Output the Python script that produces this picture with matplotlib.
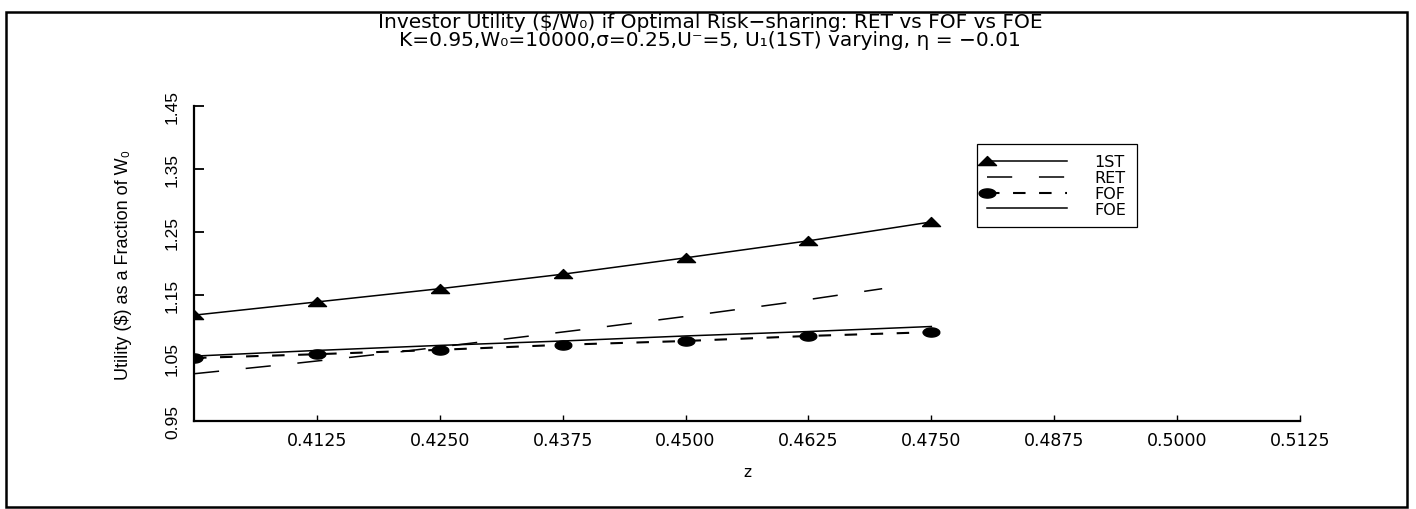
import matplotlib

matplotlib.use("Agg")
import matplotlib.pyplot as plt
import numpy as np
from matplotlib.legend_handler import HandlerLine2D
from matplotlib.patches import Rectangle

# utility per unit of initial wealth, by z
z = [0.4000, 0.4125, 0.4250, 0.4375, 0.4500, 0.4625, 0.4750]
u_1st = [1.118, 1.139, 1.160, 1.183, 1.209, 1.236, 1.266]
u_fof = [1.050, 1.056, 1.063, 1.071, 1.077, 1.085, 1.091]
u_foe = [1.053, 1.062, 1.070, 1.077, 1.085, 1.092, 1.100]

# RET is evaluated on its own grid
z_ret = [0.40, 0.41, 0.42, 0.43, 0.44, 0.45, 0.46, 0.47]
u_ret = [1.025, 1.041, 1.058, 1.077, 1.096, 1.116, 1.137, 1.160]

x_ticks = [0.4125, 0.4250, 0.4375, 0.4500, 0.4625, 0.4750, 0.4875, 0.5000, 0.5125]
x_tick_labels = ["0.4125", "0.4250", "0.4375", "0.4500", "0.4625",
                 "0.4750", "0.4875", "0.5000", "0.5125"]
y_ticks = [0.95, 1.05, 1.15, 1.25, 1.35, 1.45]
y_tick_labels = ["0.95", "1.05", "1.15", "1.25", "1.35", "1.45"]

TITLE_1 = "Investor Utility ($/W\u2080) if Optimal Risk\u2212sharing: RET vs FOF vs FOE"
TITLE_2 = "K=0.95,W\u2080=10000,\u03c3=0.25,U\u207b=5, U\u2081(1ST) varying, \u03b7 = \u22120.01"

NARROW = ["Liberation Sans", "DejaVu Sans"]
WIDE = ["DejaVu Sans"]

# flat triangle and flat ellipse markers
TRI = [(-1.0, -0.45), (1.0, -0.45), (0.0, 0.55), (-1.0, -0.45)]
_t = np.linspace(0, 2 * np.pi, 41)
ELL = list(zip(np.cos(_t), 0.55 * np.sin(_t)))


class _MarkerAtStart(HandlerLine2D):
    """Legend handle with the marker drawn at the left end of the line."""

    def create_artists(self, *args, **kwargs):
        arts = super().create_artists(*args, **kwargs)
        for a in arts:
            if a.get_markevery() is not None:
                a.set_markevery([0])
        return arts


fig = plt.figure(figsize=(14.16, 5.10), dpi=100)
ax = fig.add_axes([194 / 1416, 88 / 510, 1106 / 1416, 315 / 510])

ax.plot(z, u_1st, color="black", lw=1.1, marker=TRI, ms=13, label="1ST")
ax.plot(z_ret, u_ret, color="black", lw=1.1, linestyle=(0, (16.5, 17.5)), label="RET")
ax.plot(z, u_fof, color="black", lw=1.5, linestyle=(0, (6, 6.5)),
        marker=ELL, ms=12, label="FOF")
ax.plot(z, u_foe, color="black", lw=1.1, label="FOE")

ax.set_xlim(0.4, 0.5125)
ax.set_ylim(0.95, 1.45)

for side in ("top", "right"):
    ax.spines[side].set_visible(False)
for side in ("left", "bottom"):
    ax.spines[side].set_linewidth(1.6)

ax.set_xticks(x_ticks)
ax.set_xticklabels(x_tick_labels, family=WIDE, fontsize=12.5)
ax.set_yticks(y_ticks)
ax.set_yticklabels(y_tick_labels, family=NARROW, fontsize=12.5, rotation=90, va="center")
ax.tick_params(axis="x", direction="in", length=4, width=1, pad=7)
ax.tick_params(axis="y", direction="in", length=7, width=1.3, pad=10)

ax.set_xlabel("z", family=WIDE, fontsize=11)
ax.xaxis.set_label_coords(0.5, -0.135)
ax.set_ylabel("Utility ($) as a Fraction of W\u2080", family=NARROW, fontsize=13)
ax.yaxis.set_label_coords(-0.056, 0.5)

leg = ax.legend(
    loc="upper left",
    bbox_to_anchor=(0.708, 0.879),
    borderaxespad=0,
    fancybox=False,
    framealpha=1,
    edgecolor="black",
    prop={"family": WIDE, "size": 11.5},
    handlelength=5.0,
    handletextpad=1.7,
    borderpad=0.65,
    labelspacing=0.05,
    numpoints=1,
    handler_map={plt.Line2D: _MarkerAtStart()},
)
leg.get_frame().set_linewidth(0.9)

fig.text(710 / 1416, 1 - 28 / 510, TITLE_1, ha="center", va="baseline",
         family=WIDE, fontsize=14.5)
fig.text(710 / 1416, 1 - 46 / 510, TITLE_2, ha="center", va="baseline",
         family=WIDE, fontsize=14.5)

# page frame
fig.patches.append(Rectangle((6 / 1416, 2 / 510), 1401 / 1416, 495 / 510,
                             transform=fig.transFigure, fill=False,
                             edgecolor="black", linewidth=1.8))

fig.savefig("out.png", dpi=100)
